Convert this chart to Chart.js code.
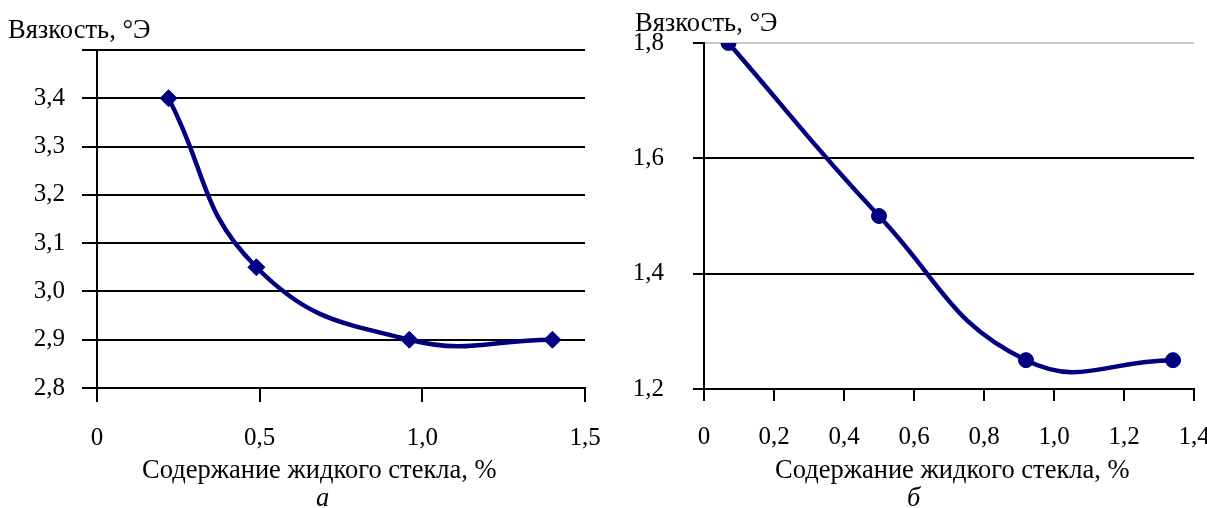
<!DOCTYPE html>
<html>
<head>
<meta charset="utf-8">
<script src="https://cdn.jsdelivr.net/npm/chart.js@4.4.0/dist/chart.umd.min.js"></script>
<style>
  body { margin: 0; background: #fff; width: 1207px; height: 508px; position: relative; overflow: hidden;
         font-family: "Liberation Serif", "Times New Roman", serif; color: #000; }
  .box { position: absolute; top: 0; height: 508px; }
  .lbl { position: absolute; font-size: 26.5px; line-height: 26px; white-space: nowrap; }
  .it { font-style: italic; }
</style>
</head>
<body>
<div class="box" style="left:0;width:600px"><canvas id="chartA"></canvas></div>
<div class="box" style="left:600px;width:607px"><canvas id="chartB"></canvas></div>

<div class="lbl" style="left:8px;top:16px">Вязкость, °Э</div>
<div class="lbl" style="left:635px;top:9px">Вязкость, °Э</div>
<div class="lbl" style="left:142px;top:456px">Содержание жидкого стекла, %</div>
<div class="lbl" style="left:775px;top:456px">Содержание жидкого стекла, %</div>
<div class="lbl it" style="left:316px;top:484px">а</div>
<div class="lbl it" style="left:907px;top:484px">б</div>

<script>
// график а
const contentA = [0.22, 0.49, 0.96, 1.40];
const viscosityA = [3.4, 3.05, 2.9, 2.9];
const xTicksA = ['0', '0,5', '1,0', '1,5'];
const yTicksA = ['2,8', '2,9', '3,0', '3,1', '3,2', '3,3', '3,4', ''];

// график б
const contentB = [0.07, 0.5, 0.92, 1.34];
const viscosityB = [1.8, 1.5, 1.25, 1.25];
const xTicksB = ['0', '0,2', '0,4', '0,6', '0,8', '1,0', '1,2', '1,4'];
const yTicksB = ['1,2', '1,4', '1,6', '1,8'];

const navy = '#000080';
const font = { family: '"Liberation Serif", "Times New Roman", serif', size: 25 };

function makeChart(id, o) {
    return new Chart(document.getElementById(id), {
        type: 'line',
        data: {
            datasets: [{
                data: o.xs.map((x, i) => ({ x: x, y: o.ys[i] })),
                borderColor: navy,
                backgroundColor: navy,
                borderWidth: 4.5,
                pointStyle: o.marker,
                pointRadius: o.radius,
                pointBorderWidth: 1,
                tension: 0.45,
                fill: false
            }]
        },
        options: {
            responsive: true,
            maintainAspectRatio: false,
            animation: false,
            layout: { padding: { left: 0, right: o.padRight, top: o.padTop, bottom: 0 } },
            plugins: { legend: { display: false }, tooltip: { enabled: false } },
            scales: {
                x: {
                    type: 'linear',
                    min: o.xMin, max: o.xMax,
                    ticks: {
                        stepSize: o.xStep, color: '#000', font: font, padding: o.xPad,
                        maxRotation: 0, autoSkip: false,
                        callback: (v, i) => o.xLabels[i] ?? ''
                    },
                    grid: { drawOnChartArea: false, color: '#000', lineWidth: 2, tickLength: o.xTick },
                    border: { color: '#000', width: 2 },
                    afterFit: s => { s.height = o.xHeight; s.paddingLeft = 0; s.paddingRight = 0; }
                },
                y: {
                    min: o.yMin, max: o.yMax,
                    ticks: {
                        stepSize: o.yStep, color: '#000', font: font, padding: o.yPad,
                        callback: (v, i) => o.yLabels[i] ?? ''
                    },
                    grid: {
                        color: c => (c.tick && o.topGray && c.index === o.yLabels.length - 1) ? '#c8c8c8' : '#000',
                        tickColor: '#000',
                        lineWidth: 2,
                        tickLength: o.yTick
                    },
                    border: { color: '#000', width: 2 },
                    afterFit: s => { s.width = o.yWidth; s.paddingTop = 0; s.paddingBottom = 0; }
                }
            }
        }
    });
}

makeChart('chartA', {
    xs: contentA, ys: viscosityA, marker: 'rectRot', radius: 8.5,
    xMin: 0, xMax: 1.5, xStep: 0.5, xLabels: xTicksA,
    yMin: 2.8, yMax: 3.5, yStep: 0.1, yLabels: yTicksA,
    padRight: 15, padTop: 50, xHeight: 120, yWidth: 97,
    xTick: 14, yTick: 15, xPad: 21, yPad: 17, topGray: false
});

makeChart('chartB', {
    xs: contentB, ys: viscosityB, marker: 'circle', radius: 7.5,
    xMin: 0, xMax: 1.4, xStep: 0.2, xLabels: xTicksB,
    yMin: 1.2, yMax: 1.8, yStep: 0.2, yLabels: yTicksB,
    padRight: 13, padTop: 43, xHeight: 119, yWidth: 104,
    xTick: 12, yTick: 11, xPad: 21, yPad: 29, topGray: true
});
</script>
</body>
</html>
